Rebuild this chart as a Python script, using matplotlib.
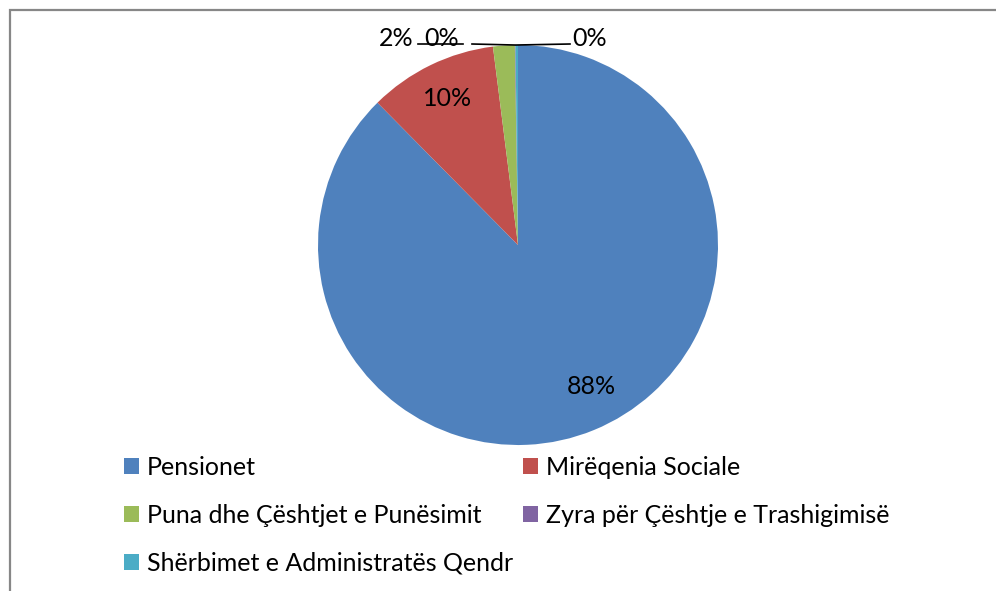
import matplotlib
matplotlib.use('Agg')
import matplotlib.pyplot as plt
from matplotlib.patches import Rectangle, Patch
import numpy as np

# budget shares (percent)
categories = ['Pensionet', 'Mirëqenia Sociale', 'Puna dhe Çështjet e Punësimit',
              'Zyra për Çështje e Trashigimisë', 'Shërbimet e Administratës Qendr']
shares = [87.6, 10.4, 1.75, 0.05, 0.2]
colors = ['#4F81BD', '#C0504D', '#9BBB59', '#8064A2', '#4BACC6']

# where each percentage label sits (pie data coords, radius = 1)
label_pos = [(0.365, -0.705), (-0.35, 0.73), (-0.61, 1.035), (-0.38, 1.035), (0.36, 1.035)]

plt.rcParams['font.family'] = ['Lato', 'DejaVu Sans']
W, H = 996, 591
fig = plt.figure(figsize=(W / 100, H / 100), dpi=100)

# outer chart frame (only top and left edges visible in crop)
fig.patches.append(Rectangle((10 / W, -0.2), 1.2, 1.2 - 10 / H,
                             transform=fig.transFigure, fill=False,
                             edgecolor='#878787', linewidth=1.6))

cx, cy, r = 518, 245, 200
ax = fig.add_axes([(cx - r) / W, (H - cy - r) / H, 2 * r / W, 2 * r / H])
wedges, _ = ax.pie(shares, colors=colors, startangle=90, counterclock=False,
                   radius=1, wedgeprops=dict(linewidth=0))
ax.set_xlim(-1, 1)
ax.set_ylim(-1, 1)
ax.set_aspect('auto')
ax.axis('off')

fs = 18
for i, (w, v) in enumerate(zip(wedges, shares)):
    x, y = label_pos[i]
    ax.text(x, y, f'{round(v):.0f}%', ha='center', va='center', fontsize=fs,
            color='black', clip_on=False)

# leader lines for the two tiny slices
def rim(w):
    a = np.deg2rad((w.theta1 + w.theta2) / 2)
    return np.cos(a), np.sin(a)

px, py = rim(wedges[3])
ax.plot([-0.5, -0.275], [1.005, 1.005], color='black', lw=1.2, clip_on=False)
ax.plot([-0.23, px], [1.005, py], color='black', lw=1.2, clip_on=False)
qx, qy = rim(wedges[4])
ax.plot([qx, 0.26], [qy, 1.005], color='black', lw=1.2, clip_on=False)

handles = [Patch(facecolor=c, edgecolor='none') for c in colors]
order = [0, 2, 4, 1, 3]
fig.legend([handles[i] for i in order], [categories[i] for i in order],
           ncol=2, loc='upper left', bbox_to_anchor=(124 / W, 1 - 456 / H),
           frameon=False, fontsize=fs, handlelength=0.6, handleheight=0.6,
           handletextpad=0.32, columnspacing=0.4, labelspacing=1.0,
           borderaxespad=0, borderpad=0)

fig.savefig('out.png', dpi=100)
